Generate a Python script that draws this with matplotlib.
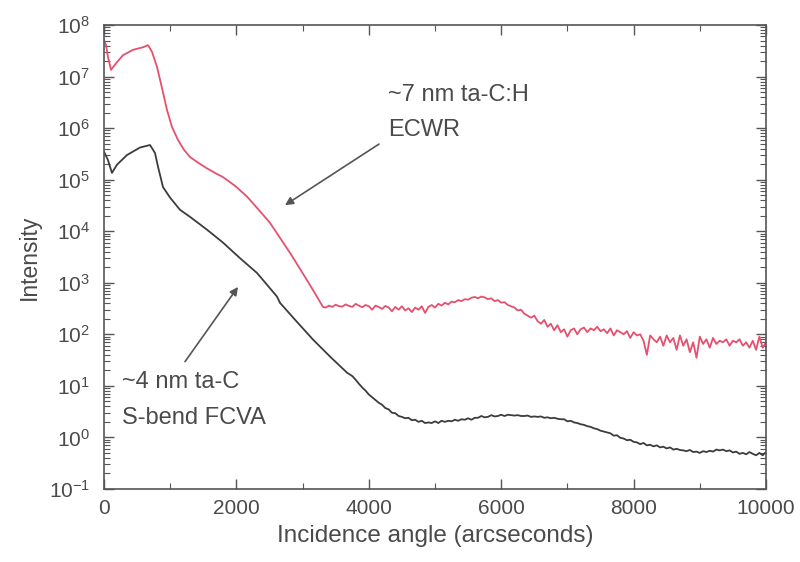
import matplotlib
matplotlib.use("Agg")
import matplotlib.pyplot as plt
from matplotlib.ticker import LogLocator, MultipleLocator, NullFormatter

plt.rcParams['font.family'] = ['Liberation Sans', 'DejaVu Sans']
plt.rcParams['mathtext.fontset'] = 'custom'
plt.rcParams['mathtext.rm'] = 'Liberation Sans'
plt.rcParams['mathtext.it'] = 'Liberation Sans'

# ~7 nm ta-C:H ECWR (red)
red_x = [0, 30, 60, 106, 196, 287, 438, 589, 665, 725, 800, 876, 952, 1027, 1118, 1208,
         1299, 1420, 1541, 1677, 1798, 1979, 2160, 2326, 2508, 2659, 2810, 2961, 3157,
         3263, 3308,
         3350, 3400, 3450, 3500, 3550, 3600, 3650, 3700, 3750, 3800, 3850, 3900, 3950,
         4000, 4050, 4100, 4150, 4200, 4250, 4300, 4350, 4400, 4450, 4500, 4550, 4600,
         4650, 4700, 4750, 4800, 4850, 4900, 4950, 5000, 5050, 5100, 5150, 5200, 5250,
         5300, 5350, 5400, 5450, 5500, 5550, 5600, 5650, 5700, 5750, 5800, 5850, 5900,
         5950, 6000, 6050, 6100, 6150, 6200, 6250, 6300, 6350, 6400, 6450, 6500, 6550,
         6600, 6650, 6700, 6750, 6800, 6850, 6900, 6950, 7000, 7050, 7100, 7150, 7200,
         7250, 7300, 7350, 7400, 7450, 7500, 7550, 7600, 7650, 7700, 7750, 7800, 7850,
         7900, 7950, 8000, 8050, 8100, 8150, 8200, 8250, 8300, 8350, 8400, 8450, 8500,
         8550, 8600, 8650, 8700, 8750, 8800, 8850, 8900, 8950, 9000, 9050, 9100, 9150,
         9200, 9250, 9300, 9350, 9400, 9450, 9500, 9550, 9600, 9650, 9700, 9750, 9800,
         9850, 9900, 9950, 10000]
red_y = [5.1e7, 4.1e7, 2.4e7, 1.35e7, 1.9e7, 2.6e7, 3.3e7, 3.7e7, 4.07e7, 3.02e7, 1.55e7,
         6.0e6, 2.24e6, 1.05e6, 5.9e5, 3.8e5, 2.75e5, 2.14e5, 1.7e5, 1.35e5, 1.12e5,
         7.6e4, 4.7e4, 2.7e4, 1.45e4, 7.4e3, 3.8e3, 1.86e3, 724, 427, 339,
         330, 360, 340, 375, 350, 345, 380, 355, 340, 390, 360, 335, 370,
         350, 300, 360, 340, 310, 355, 330, 280, 340, 300, 350, 290, 320,
         270, 330, 300, 350, 260, 340, 370, 330, 390, 360, 410, 380, 430,
         420, 460, 440, 480, 470, 510, 530, 500, 540, 520, 480, 500, 440,
         460, 410, 420, 370, 350, 330, 290, 300, 250, 230, 210, 230, 180,
         160, 190, 140, 160, 120, 150, 110, 125, 90, 120, 130, 100, 125,
         135, 110, 130, 120, 140, 115, 125, 105, 130, 95, 120, 110, 100,
         115, 85, 110, 95, 100, 75, 40, 95, 80, 70, 90, 60, 95,
         70, 85, 50, 95, 60, 80, 45, 70, 35, 90, 65, 80, 55,
         85, 65, 75, 70, 80, 60, 75, 70, 80, 60, 70, 55, 75,
         50, 90, 55, 70]

# ~4 nm ta-C S-bend FCVA (gray)
gray_x = [0, 60, 120, 196, 347, 544, 695, 770, 816, 891, 997, 1148, 1299, 1556, 1798,
          2054, 2311, 2613, 2659, 2915, 3157, 3414, 3671, 3750,
          3800, 3850, 3900, 3950, 4000, 4050, 4100, 4150, 4200, 4250, 4300, 4350,
          4400, 4450, 4500, 4550, 4600, 4650, 4700, 4750, 4800, 4850, 4900, 4950, 5000,
          5050, 5100, 5150, 5200, 5250, 5300, 5350, 5400, 5450, 5500, 5550, 5600, 5650,
          5700, 5750, 5800, 5850, 5900, 5950, 6000, 6050, 6100, 6150, 6200, 6250, 6300,
          6350, 6400, 6450, 6500, 6550, 6600, 6650, 6700, 6750, 6800, 6850, 6900, 6950,
          7000, 7050, 7100, 7150, 7200, 7250, 7300, 7350, 7400, 7450, 7500, 7550, 7600,
          7650, 7700, 7750, 7800, 7850, 7900, 7950, 8000, 8050, 8100, 8150, 8200, 8250,
          8300, 8350, 8400, 8450, 8500, 8550, 8600, 8650, 8700, 8750, 8800, 8850, 8900,
          8950, 9000, 9050, 9100, 9150, 9200, 9250, 9300, 9350, 9400, 9450, 9500, 9550,
          9600, 9650, 9700, 9750, 9800, 9850, 9900, 9950, 10000]
gray_y = [3.5e5, 2.4e5, 1.35e5, 1.95e5, 3.0e5, 4.2e5, 4.7e5, 3.3e5, 1.78e5, 7.2e4, 4.5e4,
          2.6e4, 1.9e4, 1.07e4, 6.0e3, 3.0e3, 1.55e3, 540, 407, 174, 79, 37, 18, 15.5,
          13.2, 11, 9.3, 8.1, 6.8, 6.0, 5.3, 4.7, 4.3, 3.7, 3.5, 3.0,
          2.95, 2.6, 2.5, 2.35, 2.4, 2.15, 2.2, 2.0, 2.1, 1.9, 1.95, 1.9, 2.05,
          1.9, 2.1, 2.0, 2.1, 2.05, 2.2, 2.1, 2.25, 2.2, 2.35, 2.2, 2.4, 2.4,
          2.6, 2.45, 2.5, 2.7, 2.55, 2.6, 2.75, 2.6, 2.75, 2.7, 2.65, 2.7, 2.6,
          2.6, 2.65, 2.5, 2.55, 2.5, 2.55, 2.4, 2.45, 2.35, 2.4, 2.3, 2.25, 2.25,
          2.05, 2.1, 1.95, 1.9, 1.8, 1.75, 1.65, 1.6, 1.5, 1.45, 1.35, 1.3, 1.25,
          1.2, 1.08, 1.1, 0.98, 0.95, 0.88, 0.9, 0.82, 0.8, 0.74, 0.78, 0.7, 0.72,
          0.67, 0.7, 0.64, 0.66, 0.61, 0.64, 0.58, 0.6, 0.57, 0.56, 0.54, 0.57, 0.52,
          0.53, 0.5, 0.54, 0.52, 0.55, 0.53, 0.58, 0.56, 0.58, 0.54, 0.56, 0.51, 0.53,
          0.48, 0.5, 0.47, 0.52, 0.48, 0.45, 0.5, 0.45, 0.52]

ytick_vals = [1e-1, 1e0, 1e1, 1e2, 1e3, 1e4, 1e5, 1e6, 1e7, 1e8]
ytick_labels = [r'10$^{-1}$', r'10$^{0}$', r'10$^{1}$', r'10$^{2}$', r'10$^{3}$',
                r'10$^{4}$', r'10$^{5}$', r'10$^{6}$', r'10$^{7}$', r'10$^{8}$']
xtick_vals = [0, 2000, 4000, 6000, 8000, 10000]

txt = '#4a4a4a'
fig = plt.figure(figsize=(8, 5.62), dpi=100)
ax = fig.add_axes([0.13, 0.13, 0.8275, 0.8255])

ax.plot(red_x, red_y, color='#e6506f', lw=1.3)
ax.plot(gray_x, gray_y, color='#3c3c3c', lw=1.3)

ax.set_yscale('log')
ax.set_xlim(0, 10000)
ax.set_ylim(1e-1, 1e8)
ax.set_yticks(ytick_vals)
ax.set_yticklabels(ytick_labels)
ax.yaxis.set_minor_locator(LogLocator(base=10, subs=range(2, 10), numticks=100))
ax.yaxis.set_minor_formatter(NullFormatter())
ax.set_xticks(xtick_vals)
ax.set_xticklabels([str(v) for v in xtick_vals])
ax.xaxis.set_minor_locator(MultipleLocator(1000))

ax.tick_params(which='both', direction='in', top=True, right=True, colors='#555555',
               labelcolor=txt, labelsize=15)
ax.tick_params(which='major', length=7, width=1)
ax.tick_params(which='minor', length=4, width=0.8)
ax.tick_params(axis='x', pad=7)
ax.tick_params(axis='y', pad=10)
for s in ax.spines.values():
    s.set_color('#555555')
    s.set_linewidth(1.2)

ax.set_xlabel('Incidence angle (arcseconds)', fontsize=17.5, color=txt, labelpad=5)
ax.set_ylabel('Intensity', fontsize=16.5, color=txt, labelpad=6)

ax.text(4290, 10**6.64, '~7 nm ta-C:H', fontsize=17, color=txt, va='center', ha='left')
ax.text(4290, 10**5.97, 'ECWR', fontsize=17, color=txt, va='center', ha='left')
ax.text(272, 10**1.08, '~4 nm ta-C', fontsize=17, color=txt, va='center', ha='left')
ax.text(272, 10**0.38, 'S-bend FCVA', fontsize=17, color=txt, va='center', ha='left')

arrow = dict(arrowstyle='-|>', color='#555555', lw=1.2, mutation_scale=12, shrinkA=0, shrinkB=0)
ax.annotate('', xy=(2734, 3.2e4), xytext=(4154, 4.9e5), arrowprops=arrow)
ax.annotate('', xy=(2024, 830), xytext=(1224, 29.5), arrowprops=arrow)

fig.savefig('out.png', dpi=100)
